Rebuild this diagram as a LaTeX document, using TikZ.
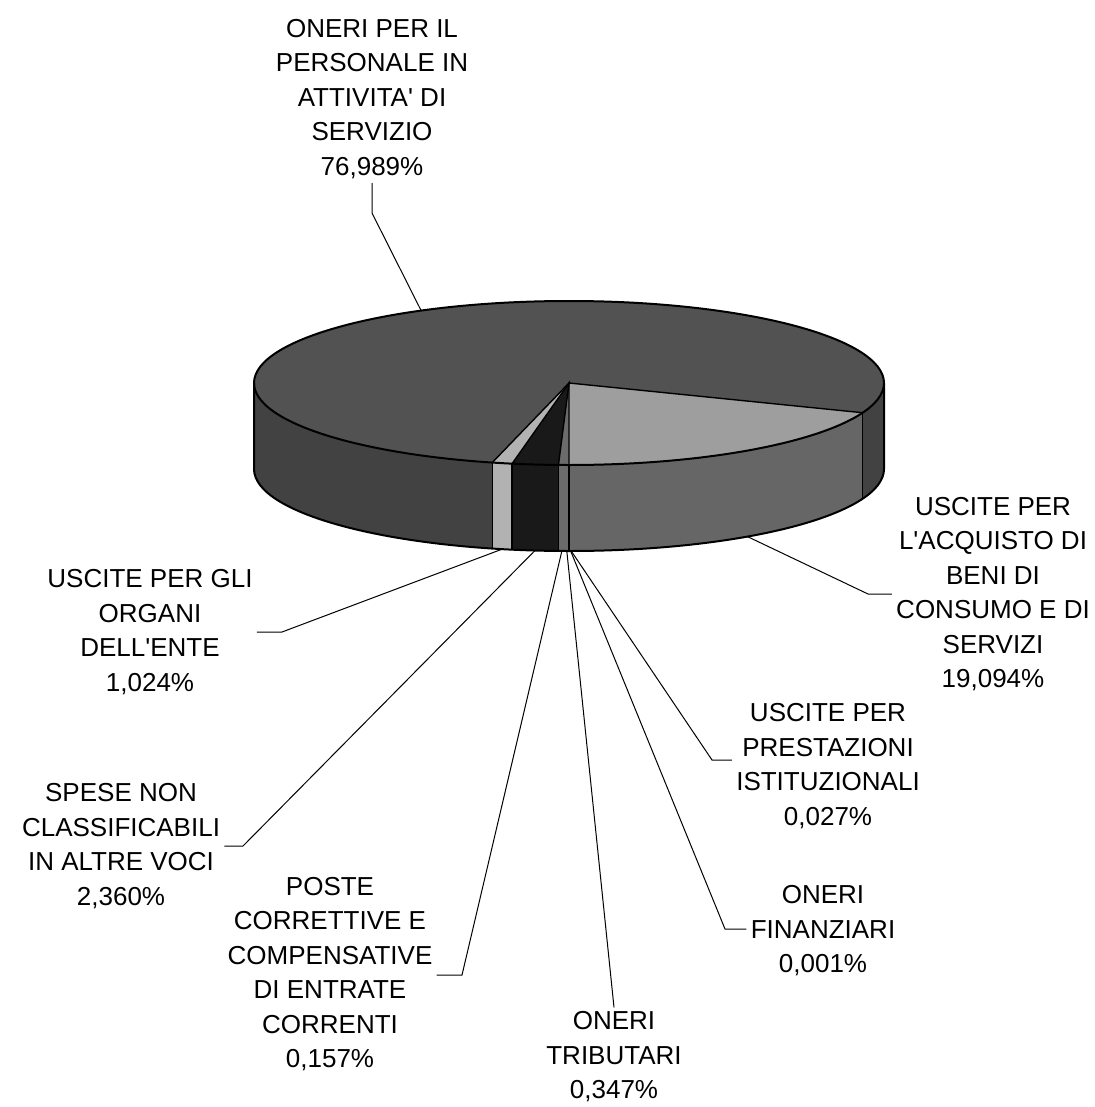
\documentclass[tikz,border=0pt]{standalone}
\usepackage{fontspec}
\setmainfont{Liberation Sans}
\begin{document}
\begin{tikzpicture}[x=0.5pt,y=-0.5pt]
\tikzset{etiq/.style={align=center, inner sep=2pt, font=\fontsize{13}{17.25}\selectfont}}
\tikzset{guide/.style={line width=0.5pt}}
\tikzset{bord/.style={line width=0.7pt}}
\tikzset{persT/.style={fill=black!68}, persS/.style={fill=black!74}}
\tikzset{beniT/.style={fill=black!38}, beniS/.style={fill=black!60}}
\tikzset{orgC/.style={fill=black!30}, speC/.style={fill=black!90}, minC/.style={fill=black!58}}
\useasboundingbox (0,0) rectangle (1095,1107);
\begin{scope}[shift={(569,383)}, yscale=-1]
\fill[persT] (0,0) -- (-21.26:315 and 82) arc[start angle=-21.26, end angle=255.9, x radius=315, y radius=82] -- cycle;
\fill[beniT] (0,0) -- (-90:315 and 82) arc[start angle=-90, end angle=-21.26, x radius=315, y radius=82] -- cycle;
\fill[orgC] (0,0) -- (-104.1:315 and 82) arc[start angle=-104.1, end angle=-100.41, x radius=315, y radius=82] -- cycle;
\fill[speC] (0,0) -- (-100.41:315 and 82) arc[start angle=-100.41, end angle=-91.92, x radius=315, y radius=82] -- cycle;
\fill[minC] (0,0) -- (-91.92:315 and 82) arc[start angle=-91.92, end angle=-90, x radius=315, y radius=82] -- cycle;
\fill[persS] (-180:315 and 82) arc[start angle=-180, end angle=-104.1, x radius=315, y radius=82] -- ++(0,-86) arc[start angle=-104.1, end angle=-180, x radius=315, y radius=82] -- cycle;
\fill[orgC] (-104.1:315 and 82) arc[start angle=-104.1, end angle=-100.41, x radius=315, y radius=82] -- ++(0,-86) arc[start angle=-100.41, end angle=-104.1, x radius=315, y radius=82] -- cycle;
\fill[speC] (-100.41:315 and 82) arc[start angle=-100.41, end angle=-91.92, x radius=315, y radius=82] -- ++(0,-86) arc[start angle=-91.92, end angle=-100.41, x radius=315, y radius=82] -- cycle;
\fill[minC] (-91.92:315 and 82) arc[start angle=-91.92, end angle=-90, x radius=315, y radius=82] -- ++(0,-86) arc[start angle=-90, end angle=-91.92, x radius=315, y radius=82] -- cycle;
\fill[beniS] (-90:315 and 82) arc[start angle=-90, end angle=-21.26, x radius=315, y radius=82] -- ++(0,-86) arc[start angle=-21.26, end angle=-90, x radius=315, y radius=82] -- cycle;
\fill[persS] (-21.26:315 and 82) arc[start angle=-21.26, end angle=0, x radius=315, y radius=82] -- ++(0,-86) arc[start angle=0, end angle=-21.26, x radius=315, y radius=82] -- cycle;
\draw[bord] (-21.26:315 and 82) -- (0,0) -- (-90:315 and 82);
\draw[bord] (-91.92:315 and 82) -- (0,0) -- (-100.41:315 and 82);
\draw[bord] (0,0) -- (-104.1:315 and 82);
\foreach \a in {-104.1,-100.41,-91.92,-90,-21.26}
  \draw[bord] (\a:315 and 82) -- ++(0,-86);
\draw[line width=1pt] (0,0) ellipse[x radius=315, y radius=82];
\draw[line width=1pt] (-180:315 and 82) -- ++(0,-86) arc[start angle=-180, end angle=0, x radius=315, y radius=82] -- (0:315 and 82);
\coordinate (P1) at (118:315 and 82);
\path (-55.5:315 and 82) ++(0,-86) coordinate (P2);
\path (-102.25:315 and 82) ++(0,-86) coordinate (P3);
\path (-96.2:315 and 82) ++(0,-86) coordinate (P4);
\path (-91.3:315 and 82) ++(0,-86) coordinate (P5);
\path (-90.4:315 and 82) ++(0,-86) coordinate (P6);
\path (-89.7:315 and 82) ++(0,-86) coordinate (P7);
\path (-89.6:315 and 82) ++(0,-86) coordinate (P8);
\end{scope}
\node[etiq] (L1) at (372,99) {ONERI PER IL\\PERSONALE IN\\ATTIVITA\textquotesingle{} DI\\SERVIZIO\\76,989\%};
\node[etiq] (L2) at (993,594) {USCITE PER\\L\textquotesingle{}ACQUISTO DI\\BENI DI\\CONSUMO E DI\\SERVIZI\\19,094\%};
\node[etiq] (L3) at (150,632) {USCITE PER GLI\\ORGANI\\DELL\textquotesingle{}ENTE\\1,024\%};
\node[etiq] (L4) at (121,846) {SPESE NON\\CLASSIFICABILI\\IN ALTRE VOCI\\2,360\%};
\node[etiq] (L5) at (330,974) {POSTE\\CORRETTIVE E\\COMPENSATIVE\\DI ENTRATE\\CORRENTI\\0,157\%};
\node[etiq] (L6) at (614,1057) {ONERI\\TRIBUTARI\\0,347\%};
\node[etiq] (L7) at (823,931) {ONERI\\FINANZIARI\\0,001\%};
\node[etiq] (L8) at (828,766) {USCITE PER\\PRESTAZIONI\\ISTITUZIONALI\\0,027\%};
\coordinate (K1) at (372,213);
\coordinate (K2) at (868,594);
\coordinate (K3) at (282,632);
\coordinate (K4) at (243,846);
\coordinate (K5) at (462,975);
\coordinate (K7) at (725,929);
\coordinate (K8) at (712,760);
\draw[guide] (P1) -- (K1) -- (L1.south);
\draw[guide] (P2) -- (K2) -- (K2 -| L2.west);
\draw[guide] (P3) -- (K3) -- (K3 -| L3.east);
\draw[guide] (P4) -- (K4) -- (K4 -| L4.east);
\draw[guide] (P5) -- (K5) -- (K5 -| L5.east);
\draw[guide] (P6) -- (L6.north);
\draw[guide] (P7) -- (K7) -- (K7 -| L7.west);
\draw[guide] (P8) -- (K8) -- (K8 -| L8.west);
\end{tikzpicture}
\end{document}
